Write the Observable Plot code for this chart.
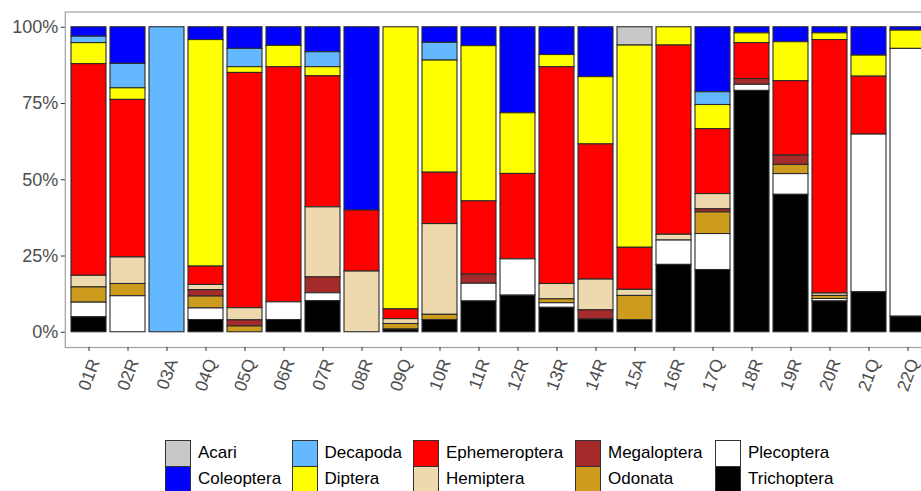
<!DOCTYPE html>
<html>
<head>
<meta charset="utf-8">
<script src="https://cdn.jsdelivr.net/npm/d3@7"></script>
<script src="https://cdn.jsdelivr.net/npm/@observablehq/plot@0.6"></script>
<style>
  html, body { margin: 0; padding: 0; background: #fff; overflow: hidden; width: 921px; height: 491px; }
  #chart { position: relative; width: 940px; }
  #legend { position: relative; width: 921px; height: 55px; font-family: "Liberation Sans", Arial, sans-serif; font-size: 17px; color: #000; }
  .key { position: absolute; width: 24px; height: 25px; border: 1px solid #333; box-sizing: content-box; }
  .lab { position: absolute; line-height: 26px; height: 26px; white-space: nowrap; }
</style>
</head>
<body>
<div id="chart"></div>
<div id="legend"></div>
<script>
const sites = ["01R","02R","03A","04Q","05Q","06R","07R","08R","09Q","10R","11R","12R","13R","14R","15A","16R","17Q","18R","19R","20R","21Q","22Q"];
const taxa = ["Acari","Coleoptera","Decapoda","Diptera","Ephemeroptera","Hemiptera","Megaloptera","Odonata","Plecoptera","Trichoptera"];
const colors = ["#c8c8c8","#0000ff","#63b8ff","#ffff00","#ff0000","#eed8ae","#a52a2a","#cd9b1d","#ffffff","#000000"];

// percentage of each taxon per site (site order as above)
const acari         = [0,0,0,0,0,0,0,0,0,0,0,0,0,0,6.0,0,0,0,0,0,0,0];
const coleoptera    = [3.1,12.0,0,4.2,7.1,6.1,8.2,60.1,0,5.1,6.2,28.2,9.1,16.4,0,0,21.3,2.0,4.9,2.0,9.3,1.1];
const decapoda      = [2.1,8.0,100,0,6.0,0,4.9,0,0,5.8,0,0,0,0,0,0,4.2,0,0,0,0,0];
const diptera       = [6.9,3.8,0,74.2,1.9,7.0,3.0,0,92.5,36.7,50.9,19.9,4.0,22.1,66.3,6.0,7.9,3.2,12.8,2.2,6.9,6.0];
const ephemeroptera = [69.4,51.6,0,6.0,77.2,77.0,43.0,20.0,3.2,16.8,24.0,28.0,71.0,44.4,13.8,62.1,21.3,11.8,24.4,83.1,19.0,0];
const hemiptera     = [3.8,8.7,0,1.7,4.0,0,23.0,19.9,1.6,29.7,0,0,5.0,10.1,2.0,1.9,5.0,0,0,0.8,0,0];
const megaloptera   = [0,0,0,2.1,2.0,0,5.2,0,0,0,3.0,0,0,3.0,0,0,1.0,1.9,3.1,0,0,0];
const odonata       = [5.0,4.0,0,3.9,1.9,0,0,0,1.8,1.7,0,0,1.3,0,7.9,0,7.1,0,3.0,1.0,0,0];
const plecoptera    = [4.8,11.8,0,3.8,0,5.8,2.6,0,0,0,5.8,11.9,1.5,0,0,8.0,11.8,2.0,6.8,0.8,51.7,87.8];
const trichoptera   = [4.9,0,0,4.0,0,4.0,10.2,0,0.9,4.0,10.1,12.0,8.0,4.2,4.0,22.1,20.4,79.2,45.1,10.1,13.1,5.1];

const yTicks = [0, 0.25, 0.5, 0.75, 1];
const yTickLabels = ["0%","25%","50%","75%","100%"];

const series = [acari, coleoptera, decapoda, diptera, ephemeroptera, hemiptera, megaloptera, odonata, plecoptera, trichoptera];
const data = [];
taxa.forEach((t, i) => sites.forEach((s, j) => {
  if (series[i][j] > 0) data.push({site: s, taxon: t, value: series[i][j]});
}));
const stackOrder = taxa.slice().reverse(); // bottom-up

const W = 940, H = 436;
const plot = Plot.plot({
  width: W,
  height: H,
  marginLeft: 64.8,
  marginRight: W - 930.6,
  marginTop: 11.5,
  marginBottom: H - 347,
  style: {fontFamily: "'Liberation Sans', Arial, sans-serif", background: "#fff", overflow: "visible"},
  x: {domain: sites, paddingInner: 0.1, paddingOuter: 0.15, axis: null},
  y: {domain: [0, 1], insetTop: 15.25, insetBottom: 15.25, axis: null},
  color: {domain: taxa, range: colors},
  marks: [
    Plot.barY(data, {
      x: "site", y: "value", fill: "taxon", z: "taxon",
      order: stackOrder, offset: "normalize",
      stroke: "#2b2b2b", strokeWidth: 1.1, inset: 0
    }),
    Plot.frame({stroke: "#a0a0a0", strokeWidth: 1.2}),
    Plot.axisY(yTicks, {
      tickSize: 4, tickPadding: 3, tickFormat: (d, i) => yTickLabels[yTicks.indexOf(d)],
      fontSize: 18, color: "#4d4d4d", stroke: "#333", label: null
    }),
    Plot.axisX(sites, {tickSize: 4, tickFormat: () => "", stroke: "#333", label: null}),
    Plot.text(sites, {
      x: d => d, text: d => d, frameAnchor: "bottom",
      textAnchor: "end", lineAnchor: "bottom", rotate: -70,
      dx: 11, dy: 14, fontSize: 17.5, fill: "#4d4d4d"
    })
  ]
});
document.getElementById("chart").appendChild(plot);

// legend (2 rows x 5 columns, column-major like ggplot)
const legend = document.getElementById("legend");
const colX = [165, 291.5, 413, 575, 715];
const rowY = [4, 30];
taxa.forEach((t, i) => {
  const c = Math.floor(i / 2), r = i % 2;
  const k = document.createElement("div");
  k.className = "key";
  k.style.left = colX[c] + "px";
  k.style.top = rowY[r] + "px";
  k.style.background = colors[i];
  legend.appendChild(k);
  const l = document.createElement("div");
  l.className = "lab";
  l.style.left = (colX[c] + 33) + "px";
  l.style.top = rowY[r] + "px";
  l.textContent = t;
  legend.appendChild(l);
});
</script>
</body>
</html>
